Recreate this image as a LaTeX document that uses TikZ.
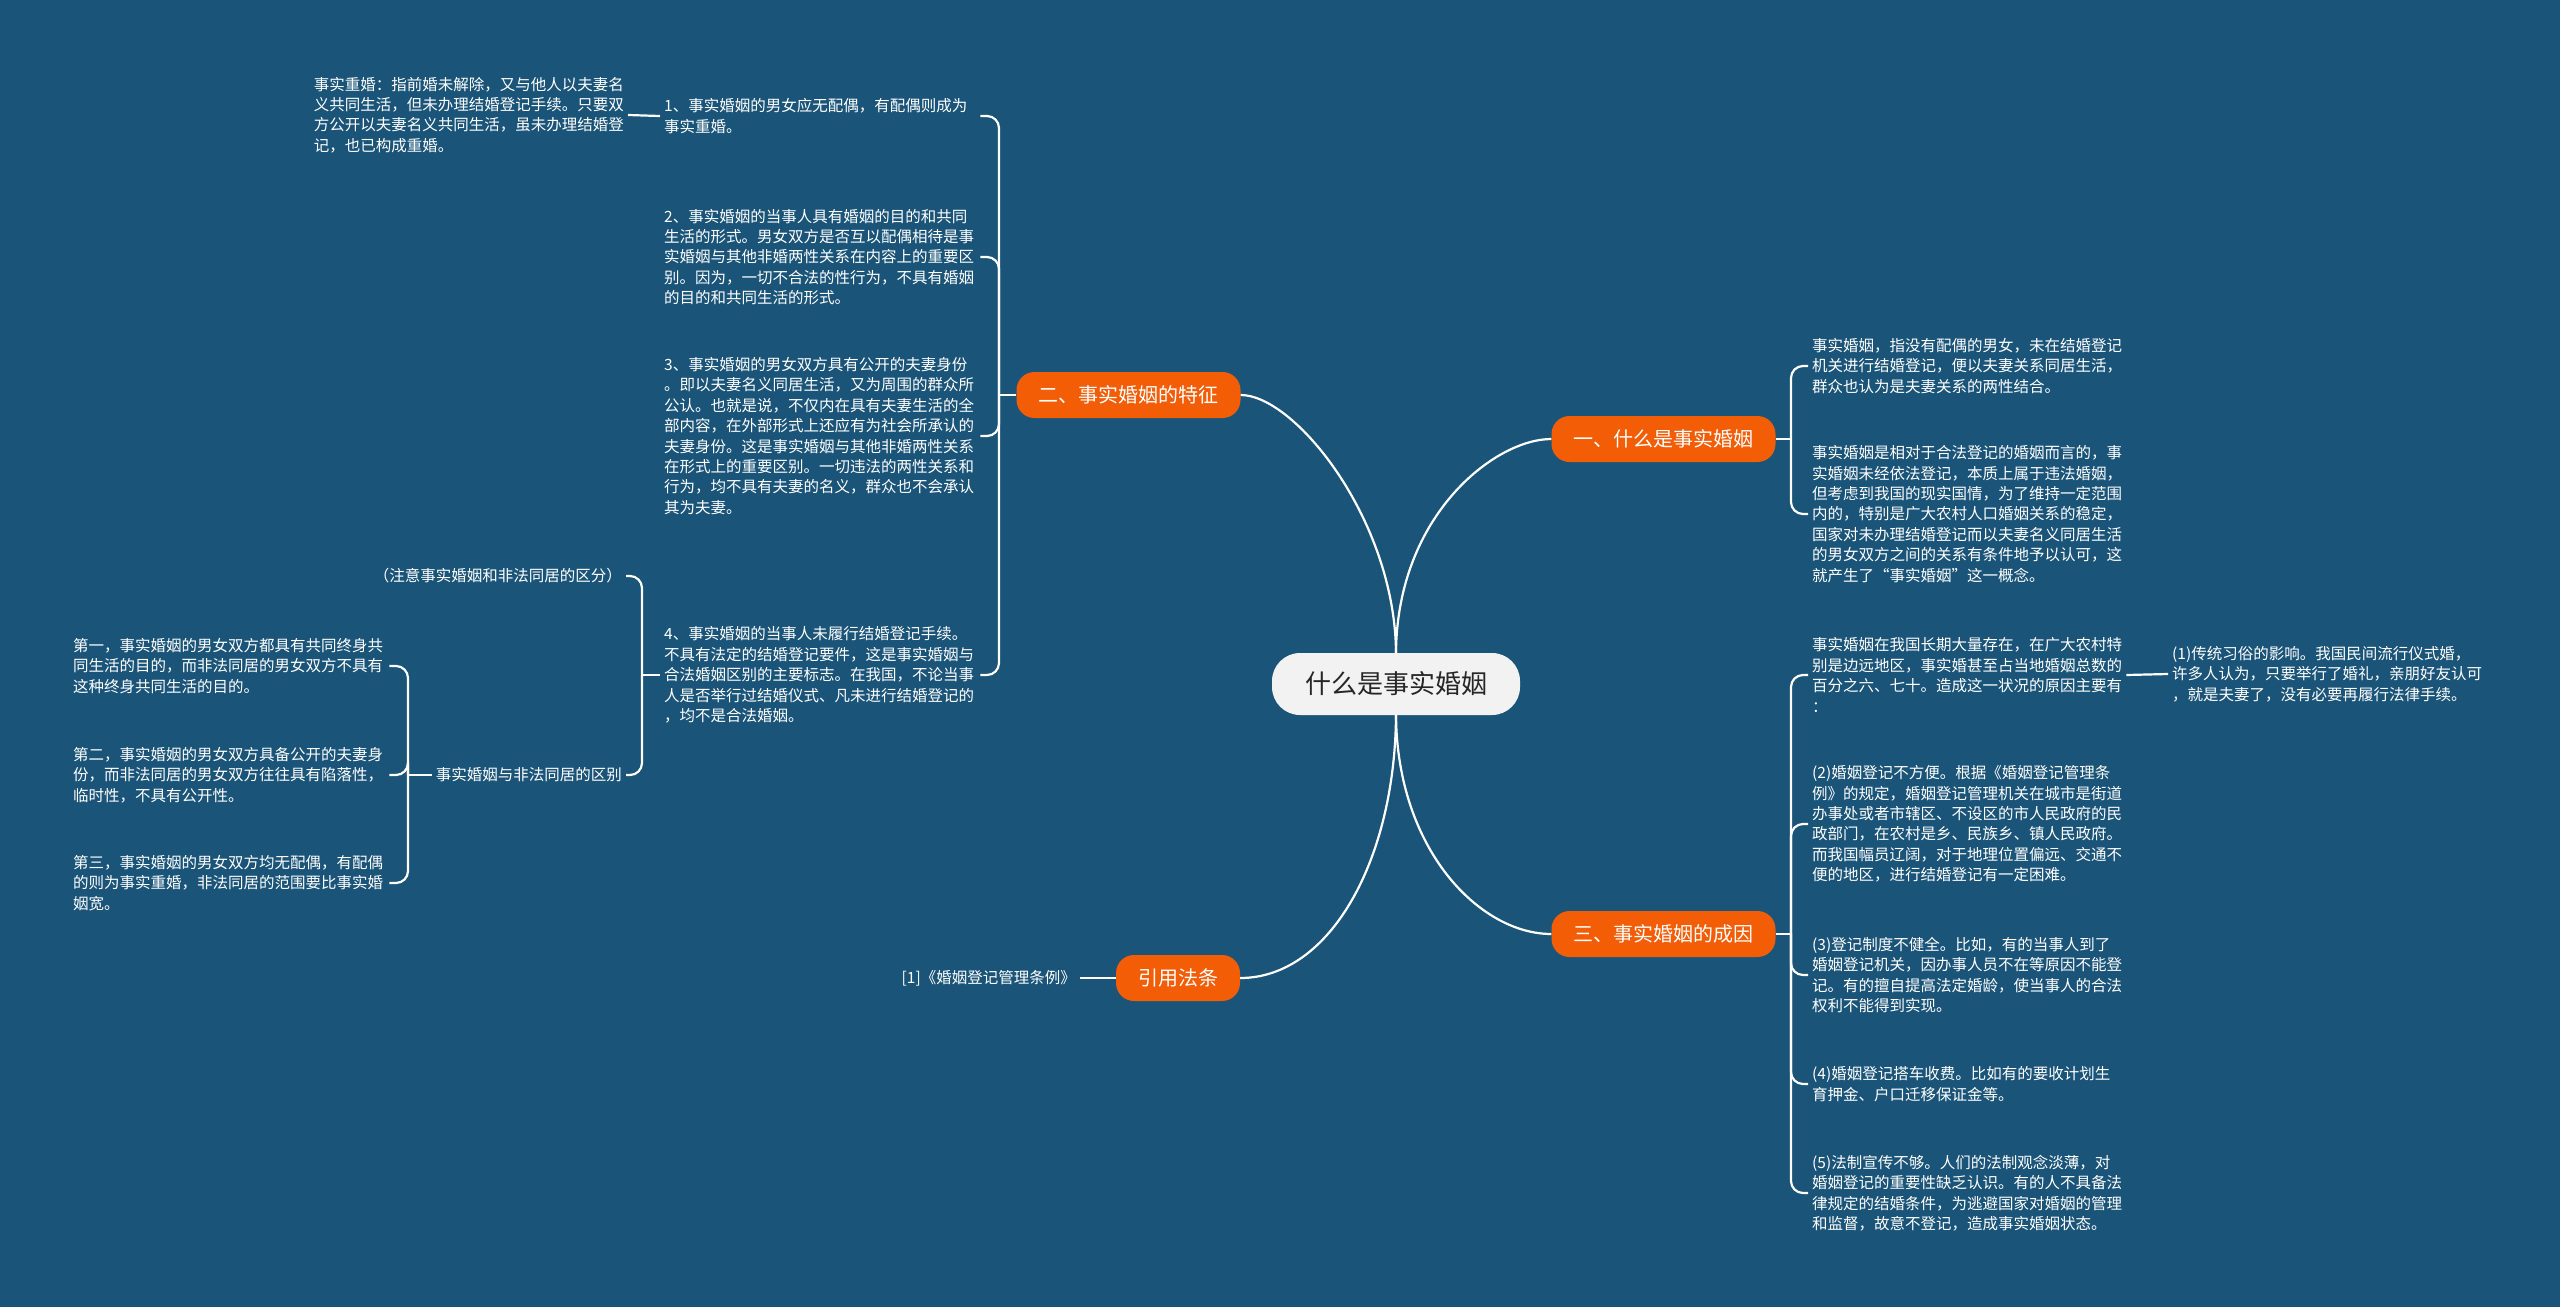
\documentclass[tikz,border=0pt]{standalone}
\usepackage{fontspec}
\newfontfamily\cjk{Noto Sans CJK SC}
\definecolor{bg}{RGB}{26,84,120}
\definecolor{org}{RGB}{243,93,5}
\definecolor{ctr}{RGB}{242,242,242}
\begin{document}
\begin{tikzpicture}[x=1pt,y=-1pt,
 leaf/.style={text=white, font=\cjk\fontsize{15.5}{20.4}\selectfont, align=left, inner xsep=4pt, inner ysep=2pt},
 wleaf/.style={leaf, text width=312pt},
 branch/.style={fill=org, text=white, font=\cjk\fontsize{20}{24}\selectfont, rounded corners=18pt, minimum height=46pt, inner xsep=22pt},
 root/.style={fill=ctr, text=black!85, font=\cjk\fontsize{26}{30}\selectfont, rounded corners=28pt, minimum height=62pt, minimum width=248pt},
 link/.style={draw=white, line width=2.2pt},
 hook/.style={link, rounded corners=12pt}]
\fill[bg] (0,0) rectangle (2560,1307);
\useasboundingbox (0,0) rectangle (2560,1307);

% root and branches
\node[root] (root) at (1396,684) {什么是事实婚姻};
\node[branch] (b1) at (1663.5,439) {一、什么是事实婚姻};
\node[branch] (b2) at (1128.5,395) {二、事实婚姻的特征};
\node[branch] (b3) at (1663.5,934) {三、事实婚姻的成因};
\node[branch] (b4) at (1178,978) {引用法条};

% branch 1 leaves
\node[leaf, anchor=west] (b1a) at (1808,366) {事实婚姻，指没有配偶的男女，未在结婚登记\\机关进行结婚登记，便以夫妻关系同居生活，\\群众也认为是夫妻关系的两性结合。};
\node[leaf, anchor=west] (b1b) at (1808,514) {事实婚姻是相对于合法登记的婚姻而言的，事\\实婚姻未经依法登记，本质上属于违法婚姻，\\但考虑到我国的现实国情，为了维持一定范围\\内的，特别是广大农村人口婚姻关系的稳定，\\国家对未办理结婚登记而以夫妻名义同居生活\\的男女双方之间的关系有条件地予以认可，这\\就产生了“事实婚姻”这一概念。};

% branch 3 leaves
\node[leaf, anchor=west] (b3a) at (1808,675) {事实婚姻在我国长期大量存在，在广大农村特\\别是边远地区，事实婚甚至占当地婚姻总数的\\百分之六、七十。造成这一状况的原因主要有\\：};
\node[leaf, anchor=west] (b3a1) at (2168,674) {(1)传统习俗的影响。我国民间流行仪式婚，\\许多人认为，只要举行了婚礼，亲朋好友认可\\，就是夫妻了，没有必要再履行法律手续。};
\node[leaf, anchor=west] (b3b) at (1808,824) {(2)婚姻登记不方便。根据《婚姻登记管理条\\例》的规定，婚姻登记管理机关在城市是街道\\办事处或者市辖区、不设区的市人民政府的民\\政部门，在农村是乡、民族乡、镇人民政府。\\而我国幅员辽阔，对于地理位置偏远、交通不\\便的地区，进行结婚登记有一定困难。};
\node[leaf, anchor=west] (b3c) at (1808,975) {(3)登记制度不健全。比如，有的当事人到了\\婚姻登记机关，因办事人员不在等原因不能登\\记。有的擅自提高法定婚龄，使当事人的合法\\权利不能得到实现。};
\node[leaf, anchor=west] (b3d) at (1808,1084) {(4)婚姻登记搭车收费。比如有的要收计划生\\育押金、户口迁移保证金等。};
\node[leaf, anchor=west] (b3e) at (1808,1193) {(5)法制宣传不够。人们的法制观念淡薄，对\\婚姻登记的重要性缺乏认识。有的人不具备法\\律规定的结婚条件，为逃避国家对婚姻的管理\\和监督，故意不登记，造成事实婚姻状态。};

% branch 2 leaves
\node[wleaf, anchor=west] (b2a) at (660,116) {1、事实婚姻的男女应无配偶，有配偶则成为\\事实重婚。};
\node[leaf, anchor=east] (b2a1) at (628,115) {事实重婚：指前婚未解除，又与他人以夫妻名\\义共同生活，但未办理结婚登记手续。只要双\\方公开以夫妻名义共同生活，虽未办理结婚登\\记，也已构成重婚。};
\node[wleaf, anchor=west] (b2b) at (660,257) {2、事实婚姻的当事人具有婚姻的目的和共同\\生活的形式。男女双方是否互以配偶相待是事\\实婚姻与其他非婚两性关系在内容上的重要区\\别。因为，一切不合法的性行为，不具有婚姻\\的目的和共同生活的形式。};
\node[wleaf, anchor=west] (b2c) at (660,436) {3、事实婚姻的男女双方具有公开的夫妻身份\\。即以夫妻名义同居生活，又为周围的群众所\\公认。也就是说，不仅内在具有夫妻生活的全\\部内容，在外部形式上还应有为社会所承认的\\夫妻身份。这是事实婚姻与其他非婚两性关系\\在形式上的重要区别。一切违法的两性关系和\\行为，均不具有夫妻的名义，群众也不会承认\\其为夫妻。};
\node[wleaf, anchor=west] (b2d) at (660,675) {4、事实婚姻的当事人未履行结婚登记手续。\\不具有法定的结婚登记要件，这是事实婚姻与\\合法婚姻区别的主要标志。在我国，不论当事\\人是否举行过结婚仪式、凡未进行结婚登记的\\，均不是合法婚姻。};
\node[leaf, anchor=east] (b2d1) at (626,576) {（注意事实婚姻和非法同居的区分）};
\node[leaf, anchor=east] (b2d2) at (626,775) {事实婚姻与非法同居的区别};
\node[wleaf, anchor=west] (b2dA) at (69,666) {第一，事实婚姻的男女双方都具有共同终身共\\同生活的目的，而非法同居的男女双方不具有\\这种终身共同生活的目的。};
\node[wleaf, anchor=west] (b2dB) at (69,775) {第二，事实婚姻的男女双方具备公开的夫妻身\\份，而非法同居的男女双方往往具有陷落性，\\临时性，不具有公开性。};
\node[wleaf, anchor=west] (b2dC) at (69,883) {第三，事实婚姻的男女双方均无配偶，有配偶\\的则为事实重婚，非法同居的范围要比事实婚\\姻宽。};

% branch 4 leaf
\node[leaf, anchor=east] (b4a) at (1080,978) {[1]《婚姻登记管理条例》};

% root connectors
\draw[link] (root.north) .. controls (1395,520) and (1295,395) .. (b2.east);
\draw[link] (root.north) .. controls (1397,515) and (1495,439) .. (b1.west);
\draw[link] (root.south) .. controls (1395,860) and (1330,978) .. (b4.east);
\draw[link] (root.south) .. controls (1397,850) and (1480,934) .. (b3.west);

% branch 1
\coordinate (j1) at (1791,439);
\draw[link] (b1.east) -- (j1);
\draw[hook] (j1) |- (b1a.west);
\draw[hook] (j1) |- (b1b.west);

% branch 3
\coordinate (j3) at (1791,934);
\draw[link] (b3.east) -- (j3);
\foreach \n in {b3a,b3b,b3c,b3d,b3e} {\draw[hook] (j3) |- (\n.west);}
\draw[link] (b3a.east) -- (b3a1.west);

% branch 2
\coordinate (j2) at (999,395);
\draw[link] (b2.west) -- (j2);
\foreach \n in {b2a,b2b,b2c,b2d} {\draw[hook] (j2) |- (\n.east);}
\draw[link] (b2a.west) -- (b2a1.east);
\coordinate (j2d) at (642,675);
\draw[link] (b2d.west) -- (j2d);
\draw[hook] (j2d) |- (b2d1.east);
\draw[hook] (j2d) |- (b2d2.east);
\coordinate (j2e) at (408,775);
\draw[link] (b2d2.west) -- (j2e);
\foreach \n in {b2dA,b2dB,b2dC} {\draw[hook] (j2e) |- (\n.east);}

% branch 4
\draw[link] (b4.west) -- (b4a.east);
\end{tikzpicture}
\end{document}
